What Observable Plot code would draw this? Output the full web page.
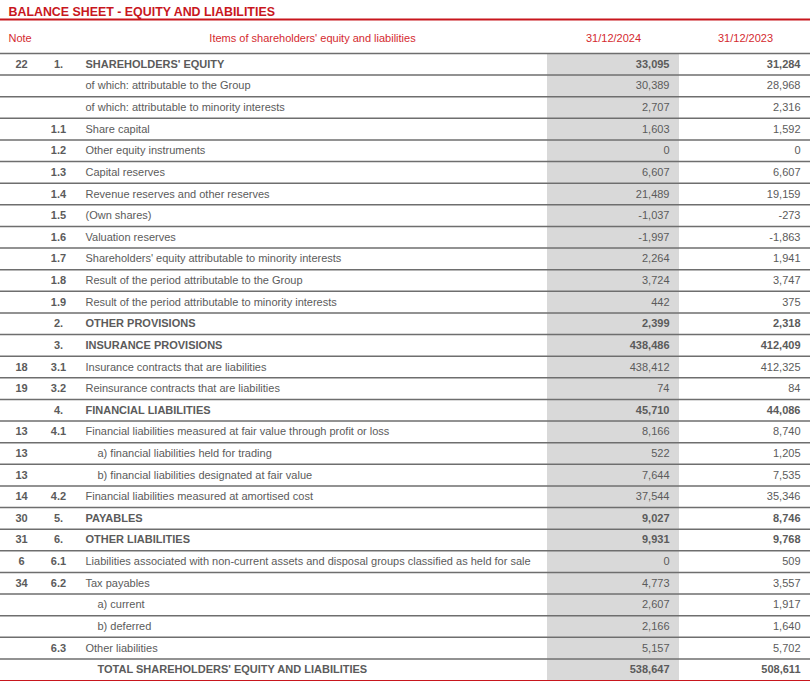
<!DOCTYPE html>
<html>
<head>
<meta charset="utf-8">
<script src="https://cdn.jsdelivr.net/npm/d3@7"></script>
<script src="https://cdn.jsdelivr.net/npm/@observablehq/plot@0.6"></script>
<style>
  html, body { margin: 0; padding: 0; background: #fff; }
  #chart svg { display: block; }
</style>
</head>
<body>
<div id="chart"></div>
<script>
// ---- Data ----
const title = "BALANCE SHEET - EQUITY AND LIABILITIES";
const headerNote = "Note";
const headerItems = "Items of shareholders' equity and liabilities";
const periods = ["31/12/2024", "31/12/2023"];

const notes = ["22", "", "", "", "", "", "", "", "", "", "", "", "", "", "18", "19", "", "13", "13", "13", "14", "30", "31", "6", "34", "", "", "", ""];
const codes = ["1.", "", "", "1.1", "1.2", "1.3", "1.4", "1.5", "1.6", "1.7", "1.8", "1.9", "2.", "3.", "3.1", "3.2", "4.", "4.1", "", "", "4.2", "5.", "6.", "6.1", "6.2", "", "", "6.3", ""];
const items = [
  "SHAREHOLDERS' EQUITY",
  "of which: attributable to the Group",
  "of which: attributable to minority interests",
  "Share capital",
  "Other equity instruments",
  "Capital reserves",
  "Revenue reserves and other reserves",
  "(Own shares)",
  "Valuation reserves",
  "Shareholders' equity attributable to minority interests",
  "Result of the period attributable to the Group",
  "Result of the period attributable to minority interests",
  "OTHER PROVISIONS",
  "INSURANCE PROVISIONS",
  "Insurance contracts that are liabilities",
  "Reinsurance contracts that are liabilities",
  "FINANCIAL LIABILITIES",
  "Financial liabilities measured at fair value through profit or loss",
  "a) financial liabilities held for trading",
  "b) financial liabilities designated at fair value",
  "Financial liabilities measured at amortised cost",
  "PAYABLES",
  "OTHER LIABILITIES",
  "Liabilities associated with non-current assets and disposal groups classified as held for sale",
  "Tax payables",
  "a) current",
  "b) deferred",
  "Other liabilities",
  "TOTAL SHAREHOLDERS' EQUITY AND LIABILITIES"
];
const values2024 = [33095, 30389, 2707, 1603, 0, 6607, 21489, -1037, -1997, 2264, 3724, 442, 2399, 438486, 438412, 74, 45710, 8166, 522, 7644, 37544, 9027, 9931, 0, 4773, 2607, 2166, 5157, 538647];
const values2023 = [31284, 28968, 2316, 1592, 0, 6607, 19159, -273, -1863, 1941, 3747, 375, 2318, 412409, 412325, 84, 44086, 8740, 1205, 7535, 35346, 8746, 9768, 509, 3557, 1917, 1640, 5702, 508611];

// ---- Table built from the arrays ----
const rows = items.map((item, i) => {
  const isTotal = item.startsWith("TOTAL");
  const isSection = codes[i].endsWith(".");
  const isSub = /^[ab]\)/.test(item);
  return {
    i, note: notes[i], code: codes[i], item,
    v24: values2024[i], v23: values2023[i],
    bold: isTotal || isSection,
    indent: isTotal || isSub
  };
});
const n = rows.length;
const fmt = d3.formatLocale({decimal: ".", thousands: ",", grouping: [3], currency: ["", ""], minus: "-"}).format(",");

// ---- Layout (pixels / row units) ----
const W = 810, H = 689;
const COL = {note: 21, code: 58, item: 85, itemIndent: 97, shadeL: 547, shadeR: 679, v24: 669, v23: 800,
             hItems: 312, h24: 613, h23: 745, left: 8};
const Y = {title: -1.92, titleRule: -1.57, header: -0.69};
const RED = "#c8161d", HRED = "#d42a2f", GREY = "#5b5b5b", LINE = "#6e6e6e";

const textStyle = {fill: GREY, fontSize: 11};
const plain = rows.filter(d => !d.bold);
const bold = rows.filter(d => d.bold);

const plot = Plot.plot({
  width: W,
  height: H,
  margin: 0,
  style: {fontFamily: "'Liberation Sans', Arial, sans-serif", background: "#fff"},
  x: {type: "linear", domain: [0, W], range: [0, W], axis: null},
  y: {type: "linear", domain: [-2.451, 29.416], range: [0, H], axis: null},
  marks: [
    // shaded 2024 column
    Plot.rect(rows, {x1: () => COL.shadeL, x2: () => COL.shadeR, y1: d => d.i, y2: d => d.i + 1, fill: "#d9d9d9"}),
    // row separators
    Plot.ruleY(d3.range(0, n), {y: d => d, x1: () => 0, x2: () => W, stroke: LINE, strokeWidth: 1.5}),
    Plot.ruleY([n], {y: d => d, x1: () => 0, x2: () => W, stroke: RED, strokeWidth: 1.2}),
    // title
    Plot.text([title], {x: () => COL.left, y: () => Y.title, text: d => d, textAnchor: "start", fill: RED, fontWeight: "bold", fontSize: 12.4}),
    Plot.ruleY([Y.titleRule], {y: d => d, x1: () => 0, x2: () => W, stroke: RED, strokeWidth: 2}),
    // header
    Plot.text([headerNote], {x: () => COL.left, y: () => Y.header, text: d => d, textAnchor: "start", fill: HRED, fontSize: 11}),
    Plot.text([headerItems], {x: () => COL.hItems, y: () => Y.header, text: d => d, textAnchor: "middle", fill: HRED, fontSize: 11}),
    Plot.text(periods, {x: (d, k) => k === 0 ? COL.h24 : COL.h23, y: () => Y.header, text: d => d, textAnchor: "middle", fill: HRED, fontSize: 11}),
    // plain rows
    Plot.text(plain, {x: () => COL.note, y: d => d.i + 0.5, text: "note", textAnchor: "middle", fontWeight: "bold", ...textStyle}),
    Plot.text(plain, {x: () => COL.code, y: d => d.i + 0.5, text: "code", textAnchor: "middle", fontWeight: "bold", ...textStyle}),
    Plot.text(plain, {x: d => d.indent ? COL.itemIndent : COL.item, y: d => d.i + 0.5, text: "item", textAnchor: "start", ...textStyle}),
    Plot.text(plain, {x: () => COL.v24, y: d => d.i + 0.5, text: d => fmt(d.v24), textAnchor: "end", ...textStyle}),
    Plot.text(plain, {x: () => COL.v23, y: d => d.i + 0.5, text: d => fmt(d.v23), textAnchor: "end", ...textStyle}),
    // bold rows
    Plot.text(bold, {x: () => COL.note, y: d => d.i + 0.5, text: "note", textAnchor: "middle", fontWeight: "bold", ...textStyle}),
    Plot.text(bold, {x: () => COL.code, y: d => d.i + 0.5, text: "code", textAnchor: "middle", fontWeight: "bold", ...textStyle}),
    Plot.text(bold, {x: d => d.indent ? COL.itemIndent : COL.item, y: d => d.i + 0.5, text: "item", textAnchor: "start", fontWeight: "bold", ...textStyle}),
    Plot.text(bold, {x: () => COL.v24, y: d => d.i + 0.5, text: d => fmt(d.v24), textAnchor: "end", fontWeight: "bold", ...textStyle}),
    Plot.text(bold, {x: () => COL.v23, y: d => d.i + 0.5, text: d => fmt(d.v23), textAnchor: "end", fontWeight: "bold", ...textStyle})
  ]
});
document.getElementById("chart").appendChild(plot);
</script>
</body>
</html>
